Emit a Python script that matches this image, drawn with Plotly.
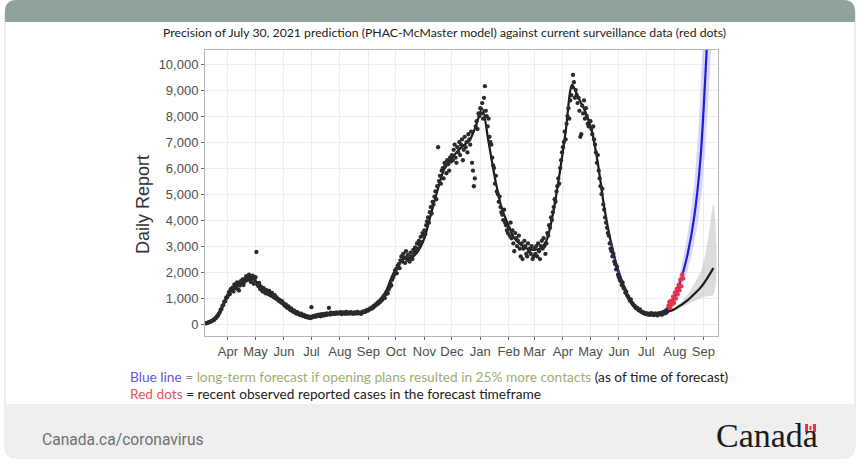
import pandas as pd
import plotly.graph_objects as go

# observed daily reports (black dots), one list per month, first value on the start date
obs_2020_03 = [30, 35, 55, 60, 80, 85, 115, 125, 160, 165, 210, 230, 290, 310, 390, 440, 540, 580,
               700, 730, 860, 880, 1010, 1020]
obs_2020_04 = [1100, 1230, 1150, 1340, 1290, 1400, 1250, 1520, 1380, 1450, 1600, 1330, 1290, 1480, 1650,
               1560, 1720, 1500, 1620, 1750, 1840, 1690, 1800, 1900, 1710, 1620, 1780, 1860, 1550, 1700]
obs_2020_05 = [1800, 2770, 1520, 1460, 1580, 1350, 1420, 1300, 1250, 1380, 1240, 1180, 1300, 1220, 1150,
               1270, 1120, 1090, 1200, 1080, 1030, 1110, 980, 1020, 960, 900, 940, 870, 820, 880, 800]
obs_2020_06 = [740, 700, 760, 650, 620, 680, 580, 540, 600, 510, 470, 520, 450, 410, 470, 390, 420, 360,
               340, 400, 330, 310, 350, 290, 270, 300, 250, 280, 240, 230]
obs_2020_07 = [650, 260, 300, 280, 320, 290, 340, 310, 360, 330, 300, 380, 350, 320, 390, 370, 340, 410,
               380, 620, 360, 440, 400, 380, 430, 410, 390, 450, 420, 400, 440]
obs_2020_08 = [420, 460, 380, 410, 450, 430, 390, 470, 420, 400, 440, 410, 460, 430, 390, 420, 450, 400,
               430, 470, 410, 440, 420, 390, 460, 480, 450, 500, 470, 520, 540]
obs_2020_09 = [520, 560, 600, 580, 640, 620, 700, 680, 760, 740, 820, 790, 880, 850, 950, 920, 1020, 1080,
               1000, 1150, 1240, 1180, 1320, 1400, 1550, 1480, 1700, 1800, 1900, 2050]
obs_2020_10 = [2100, 1950, 2250, 2300, 2150, 2450, 2600, 2400, 2700, 2550, 2350, 2800, 2500, 2650, 2450,
               2400, 2750, 2600, 2500, 2850, 2700, 2950, 2800, 3100, 2900, 3200, 3050, 3350, 3150, 3500, 3400]
obs_2020_11 = [3600, 3450, 3800, 3950, 4100, 3900, 4300, 4500, 4250, 4700, 4600, 4900, 5100, 4800, 5300,
               6800, 5500, 5700, 5400, 5900, 6000, 5600, 6200, 6100, 5800, 6300, 6150, 5900, 6400, 6250]
obs_2020_12 = [6500, 6300, 6700, 6900, 6400, 6200, 6800, 6600, 7000, 6500, 6900, 7100, 6300, 6700, 7200,
               6800, 7000, 6600, 7300, 7100, 6900, 7400, 6200, 5900, 5300, 5600, 7600, 7800, 7500, 8100, 8000]
obs_2021_01 = [8300, 8100, 8500, 7900, 8700, 9150, 8200, 8000, 7600, 7900, 7200, 7000, 6900, 6400, 6100,
               6000, 5400, 5700, 5100, 5000, 4700, 4900, 4500, 4300, 4200, 4000, 4400, 3900, 3800, 3600, 3500]
obs_2021_02 = [3700, 3400, 3900, 3300, 3600, 3100, 2800, 3500, 3300, 3000, 3200, 3400, 2900, 2600, 3100,
               2500, 2900, 3200, 3000, 2700, 2600, 3100, 2800, 2900, 2700, 3000, 2500, 2600]
obs_2021_03 = [2900, 2700, 3000, 2600, 3100, 2800, 2500, 3000, 3200, 2900, 3300, 3000, 2700, 3100, 3500,
               3400, 3800, 3700, 4100, 4000, 4300, 4500, 4800, 4700, 5100, 5300, 5600, 5400, 6000, 6300, 6600]
obs_2021_04 = [6800, 7000, 7400, 7100, 7700, 8000, 8300, 7900, 8600, 8800, 9100, 9580, 9300, 8700, 9000,
               8800, 8500, 8700, 8200, 7200, 7300, 8400, 8100, 8600, 7900, 8300, 8000, 7700, 7600, 7800]
obs_2021_05 = [7800, 7500, 7300, 7600, 7100, 6900, 6600, 6200, 6500, 5900, 5600, 5300, 5000, 5200, 4600,
               4400, 4100, 3900, 3700, 3500, 3400, 3100, 2900, 2800, 2600, 2700, 2400, 2300, 2100, 2200, 1900]
obs_2021_06 = [1800, 1700, 1650, 1500, 1600, 1400, 1350, 1200, 1250, 1100, 1050, 980, 900, 950, 820,
               780, 720, 700, 640, 600, 620, 550, 520, 560, 480, 470, 430, 450, 400, 420]
obs_2021_07 = [380, 410, 360, 390, 350, 420, 370, 400, 340, 380, 410, 360, 330, 390, 420, 370, 400, 360,
               450, 430, 410, 470, 440, 500]

obs_months = [
    ("2020-03-08", obs_2020_03), ("2020-04-01", obs_2020_04), ("2020-05-01", obs_2020_05),
    ("2020-06-01", obs_2020_06), ("2020-07-01", obs_2020_07), ("2020-08-01", obs_2020_08),
    ("2020-09-01", obs_2020_09), ("2020-10-01", obs_2020_10), ("2020-11-01", obs_2020_11),
    ("2020-12-01", obs_2020_12), ("2021-01-01", obs_2021_01), ("2021-02-01", obs_2021_02),
    ("2021-03-01", obs_2021_03), ("2021-04-01", obs_2021_04), ("2021-05-01", obs_2021_05),
    ("2021-06-01", obs_2021_06), ("2021-07-01", obs_2021_07),
]

# recent observed cases in the forecast timeframe (red dots)
red_start = "2021-07-25"
red_vals = [700, 850, 620, 900, 760, 1050, 820, 1200, 980, 1350, 1150, 1500, 1300, 1700, 1450, 1900, 1750]

# model fit + baseline forecast (black line)
fit_dates = ["2020-03-08", "2020-03-15", "2020-03-22", "2020-03-29", "2020-04-05", "2020-04-12",
             "2020-04-19", "2020-04-26", "2020-05-03", "2020-05-10", "2020-05-17", "2020-05-24",
             "2020-05-31", "2020-06-07", "2020-06-14", "2020-06-21", "2020-06-28", "2020-07-05",
             "2020-07-12", "2020-07-19", "2020-07-26", "2020-08-02", "2020-08-09", "2020-08-16",
             "2020-08-23", "2020-08-30", "2020-09-06", "2020-09-13", "2020-09-20", "2020-09-27",
             "2020-10-04", "2020-10-11", "2020-10-18", "2020-10-25", "2020-11-01", "2020-11-08",
             "2020-11-15", "2020-11-22", "2020-11-29", "2020-12-06", "2020-12-13", "2020-12-20",
             "2020-12-27", "2021-01-03", "2021-01-10", "2021-01-17", "2021-01-24", "2021-01-31",
             "2021-02-07", "2021-02-14", "2021-02-21", "2021-02-28", "2021-03-07", "2021-03-14",
             "2021-03-21", "2021-03-28", "2021-04-04", "2021-04-11", "2021-04-18", "2021-04-25",
             "2021-05-02", "2021-05-09", "2021-05-16", "2021-05-23", "2021-05-30", "2021-06-06",
             "2021-06-13", "2021-06-20", "2021-06-27", "2021-07-04", "2021-07-11", "2021-07-18",
             "2021-07-25", "2021-08-01", "2021-08-08", "2021-08-15", "2021-08-22", "2021-08-29",
             "2021-09-05", "2021-09-12"]
fit_vals = [40, 150, 430, 900, 1300, 1550, 1720, 1750, 1600, 1380, 1200, 1030,
            840, 620, 460, 360, 310, 330, 370, 400, 420, 420, 420, 420,
            440, 520, 650, 900, 1250, 1850, 2300, 2550, 2550, 2800, 3300, 4200,
            5100, 5900, 6300, 6600, 6850, 7050, 7600, 8300, 7000, 5600, 4500, 3850,
            3300, 3050, 2900, 2850, 2900, 3200, 4200, 5700, 7400, 9200, 8700, 8200,
            7500, 6200, 4500, 3200, 2200, 1500, 950, 650, 470, 400, 390, 420,
            480, 580, 740, 920, 1150, 1400, 1750, 2150]

# forecast if opening plans resulted in 25% more contacts (blue line)
blue_dates = ["2021-05-23", "2021-05-30", "2021-06-06", "2021-06-13", "2021-06-20", "2021-06-27",
              "2021-07-04", "2021-07-11", "2021-07-18", "2021-07-25", "2021-08-01", "2021-08-08",
              "2021-08-15", "2021-08-22", "2021-08-29", "2021-09-05"]
blue_vals = [3200, 2200, 1500, 950, 650, 470, 400, 400, 470, 650, 1050, 1750, 2700, 4100, 6400, 10800]

# uncertainty bands
band_dates = ["2021-07-18", "2021-07-25", "2021-08-01", "2021-08-08", "2021-08-15", "2021-08-22",
              "2021-08-29", "2021-09-05", "2021-09-12"]
blue_hi = [480, 760, 1300, 2200, 3500, 5400, 9000, 16000, 26000]
blue_lo = [470, 580, 880, 1400, 2100, 3100, 4700, 7800, 13000]
grey_hi = [430, 510, 640, 850, 1150, 1550, 2000, 3000, 4600]
grey_lo = [410, 450, 520, 640, 760, 880, 1000, 1080, 1150]

# plot area in pixels
L, R, T, B = 205, 718, 50, 336


def px(x):
    return (x - L) / (R - L)


def py(y):
    return (B - y) / (B - T)


def rrect(x0, y0, x1, y1, rt, rb):
    pts = [("M", x0 + rt, y0), ("L", x1 - rt, y0), ("Q", x1, y0, x1, y0 + rt),
           ("L", x1, y1 - rb), ("Q", x1, y1, x1 - rb, y1), ("L", x0 + rb, y1),
           ("Q", x0, y1, x0, y1 - rb), ("L", x0, y0 + rt), ("Q", x0, y0, x0 + rt, y0)]
    s = ""
    for p in pts:
        if p[0] == "Q":
            s += "Q%.5f,%.5f %.5f,%.5f " % (px(p[1]), py(p[2]), px(p[3]), py(p[4]))
        else:
            s += "%s%.5f,%.5f " % (p[0], px(p[1]), py(p[2]))
    return s + "Z"


obs_x, obs_y = [], []
for start, vals in obs_months:
    obs_x += list(pd.date_range(start, periods=len(vals), freq="D"))
    obs_y += vals
red_x = list(pd.date_range(red_start, periods=len(red_vals), freq="D"))

fig = go.Figure()

fig.add_trace(go.Scatter(
    x=band_dates + band_dates[::-1], y=grey_hi + grey_lo[::-1], mode="lines",
    fill="toself", fillcolor="rgba(185,185,185,0.5)", line=dict(width=0, shape="spline"),
    hoverinfo="skip"))
fig.add_trace(go.Scatter(
    x=band_dates + band_dates[::-1], y=blue_hi + blue_lo[::-1], mode="lines",
    fill="toself", fillcolor="rgba(140,140,255,0.35)", line=dict(width=0, shape="spline"),
    hoverinfo="skip"))
fig.add_trace(go.Scatter(
    x=fit_dates, y=fit_vals, mode="lines",
    line=dict(color="#1a1a1a", width=2.2, shape="spline", smoothing=0.8)))
fig.add_trace(go.Scatter(
    x=blue_dates, y=blue_vals, mode="lines",
    line=dict(color="#1f1fd0", width=2.2, shape="spline", smoothing=0.8)))
fig.add_trace(go.Scatter(
    x=obs_x, y=obs_y, mode="markers",
    marker=dict(color="#2a2a2a", size=4.3)))
fig.add_trace(go.Scatter(
    x=red_x, y=red_vals, mode="markers",
    marker=dict(color="#e8334a", size=4.5)))

shapes = [
    dict(type="path", path=rrect(5, 0, 855, 458, 12, 12), xref="paper", yref="paper",
         fillcolor="white", line=dict(color="#dcdcdc", width=1), layer="below"),
    dict(type="path", path=rrect(5, 0, 855, 22, 12, 0), xref="paper", yref="paper",
         fillcolor="#8fa29e", line=dict(width=0), layer="below"),
    dict(type="path", path=rrect(5, 404, 855, 458, 0, 12), xref="paper", yref="paper",
         fillcolor="#efefef", line=dict(width=0), layer="below"),
    # little flag on the wordmark
    dict(type="rect", xref="paper", yref="paper", x0=px(805), x1=px(816), y0=py(432), y1=py(424),
         fillcolor="#e03a4a", line=dict(width=0)),
    dict(type="rect", xref="paper", yref="paper", x0=px(808), x1=px(813), y0=py(432), y1=py(424),
         fillcolor="#fbe3e6", line=dict(width=0)),
    dict(type="rect", xref="paper", yref="paper", x0=px(809.5), x1=px(811.5), y0=py(430), y1=py(426),
         fillcolor="#e03a4a", line=dict(width=0)),
]

annotations = [
    dict(x=px(444), y=py(32), text="Precision of July 30, 2021 prediction (PHAC-McMaster model) "
         "against current surveillance data (red dots)",
         font=dict(family="Lato", size=12.25, color="#222222")),
    dict(x=px(143), y=py(205), text="Daily Report", textangle=-90,
         font=dict(family="Liberation Sans", size=18, color="#333333")),
    dict(x=px(128), y=py(376), xanchor="left",
         text="<span style='color:#5b5bd6'>Blue line</span>"
              "<span style='color:#888888'> = </span>"
              "<span style='color:#9cae72'>long-term forecast if opening plans resulted in 25% more contacts</span>"
              "<span style='color:#222222'> (as of time of forecast)</span>",
         font=dict(family="Lato", size=13.7)),
    dict(x=px(128), y=py(393), xanchor="left",
         text="<span style='color:#e8545a'>Red dots</span>"
              "<span style='color:#222222'> = recent observed reported cases in the forecast timeframe</span>",
         font=dict(family="Lato", size=13.7)),
    dict(x=px(40), y=py(440), xanchor="left", text="Canada.ca/coronavirus",
         font=dict(family="Roboto", size=15.6, color="#707070")),
    dict(x=px(714), y=py(435), xanchor="left", text="Canada",
         font=dict(family="Liberation Serif", size=34, color="#1a1a1a")),
]
for a in annotations:
    a.update(xref="paper", yref="paper", showarrow=False)
    a.setdefault("xanchor", "center")
    a.setdefault("yanchor", "middle")

fig.update_layout(
    width=861, height=463, autosize=False,
    margin=dict(l=L, r=861 - R, t=T, b=463 - B),
    paper_bgcolor="white", plot_bgcolor="rgba(0,0,0,0)",
    showlegend=False,
    font=dict(family="Liberation Sans", size=13, color="#4d4d4d"),
    shapes=shapes, annotations=annotations,
)
fig.update_xaxes(
    type="date", range=["2020-03-07", "2021-09-17"],
    tick0="2020-04-01", dtick="M1", tickformat="%b",
    ticks="outside", ticklen=3, tickcolor="#666666",
    showgrid=True, gridcolor="#ededed", zeroline=False,
    showline=True, mirror=True, linecolor="#b5b5b5", linewidth=1,
    tickfont=dict(size=13, color="#4d4d4d"),
)
fig.update_yaxes(
    range=[-460, 10540], tickvals=list(range(0, 10001, 1000)), tickformat=",d",
    ticks="outside", ticklen=3, tickcolor="#666666",
    showgrid=True, gridcolor="#ededed", zeroline=False,
    showline=True, mirror=True, linecolor="#b5b5b5", linewidth=1,
    tickfont=dict(size=13, color="#4d4d4d"),
)

# page body has an 8px default margin; drop it so the figure sits at the window corner
fig.write_html("out.html", config={"displayModeBar": False},
               post_script="document.body.style.margin='0px';")
